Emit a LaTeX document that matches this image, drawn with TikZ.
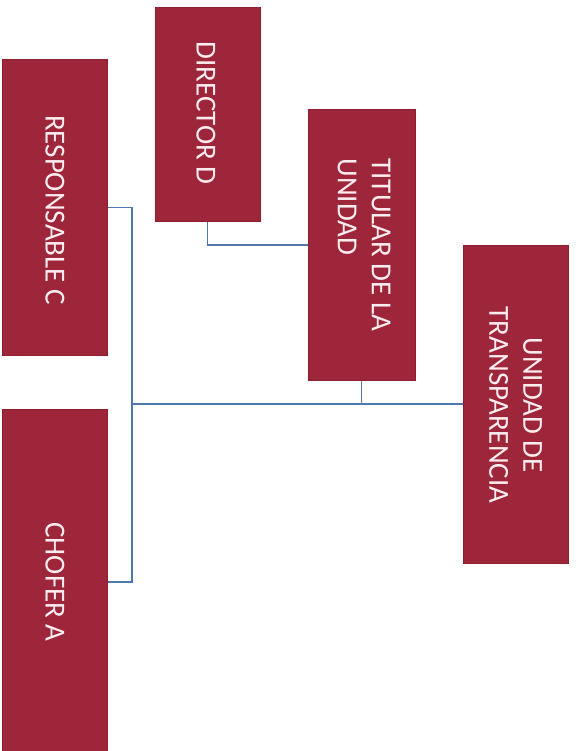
\documentclass[tikz,border=0pt]{standalone}
\usepackage{fontspec}
\setmainfont{Carlito}
\definecolor{boxred}{RGB}{158,38,58}
\definecolor{boxedge}{RGB}{140,30,48}
\definecolor{linkblue}{RGB}{80,120,170}
\definecolor{textpink}{RGB}{255,236,240}
\begin{document}
\begin{tikzpicture}[x=1pt,y=-1pt,
  orgbox/.style={draw=boxedge,line width=1pt,fill=boxred,rectangle,inner sep=0pt},
  orgtext/.style={rotate=-90,text=textpink,font=\fontsize{29}{34}\selectfont,inner sep=0pt},
  link/.style={draw=linkblue,line width=1.6pt}]
\useasboundingbox (0,0) rectangle (575,751);
\fill[white] (0,0) rectangle (575,751);
\node[orgbox,minimum width=105pt,minimum height=295pt] (resp) at (54.5,207.5) {};
\node[orgbox,minimum width=105pt,minimum height=213pt] (dir) at (207.5,114.5) {};
\node[orgbox,minimum width=107pt,minimum height=270pt] (tit) at (361.5,245) {};
\node[orgbox,minimum width=105pt,minimum height=318pt] (transp) at (515.5,404) {};
\node[orgbox,minimum width=105pt,minimum height=346pt] (chof) at (54.5,582) {};
\node[orgtext] (tresp) at (55,210) {RESPONSABLE C};
\node[orgtext] (tdir) at (206,113) {DIRECTOR D};
\node[orgtext,align=left] (ttit) at (364,245) {TITULAR DE LA\\UNIDAD};
\node[orgtext,align=center] (ttransp) at (515.5,405) {UNIDAD DE\\TRANSPARENCIA};
\node[orgtext] (tchof) at (55,582) {CHOFER A};
\coordinate (j) at (132,404);
\draw[link] (resp.east) -| (j);
\draw[link] (chof.east) -| (j);
\draw[link] (j) -- (transp.west);
\draw[link] (tit.south) -- (tit.south |- j);
\draw[link] (dir.south) |- (tit.west);
\end{tikzpicture}
\end{document}
